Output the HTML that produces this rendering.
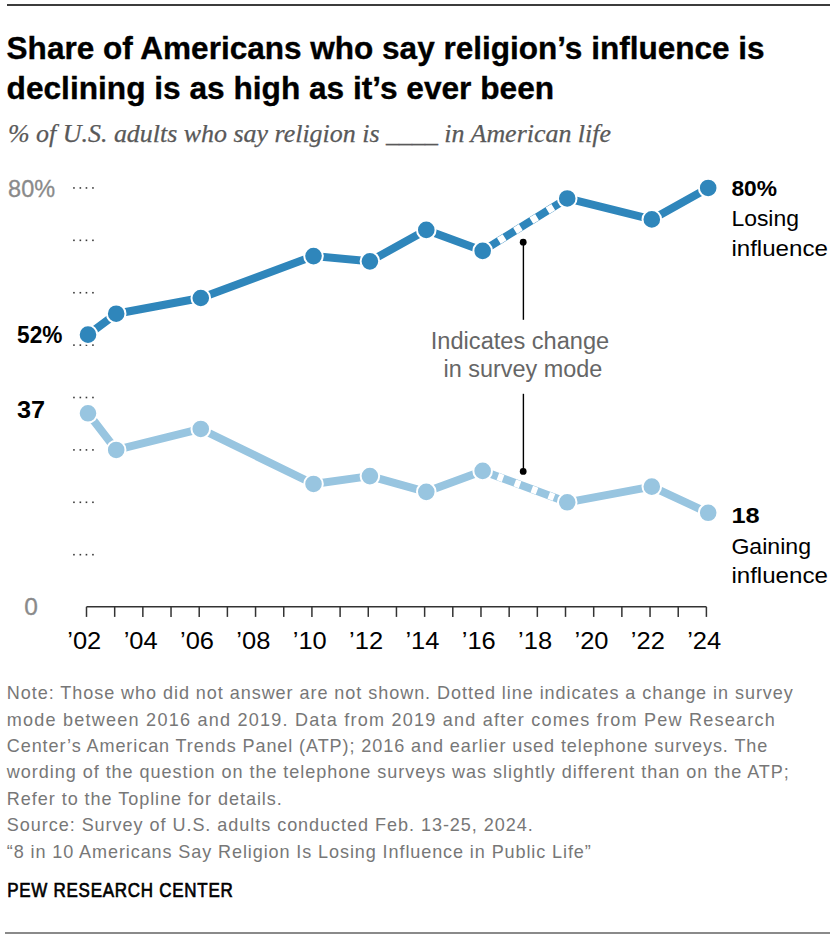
<!DOCTYPE html>
<html><head><meta charset="utf-8"><style>
html,body{margin:0;padding:0;background:#fff;width:840px;height:940px;overflow:hidden}
svg{display:block}
</style></head><body>
<svg width="840" height="940" viewBox="0 0 840 940">
<rect x="7" y="4" width="823" height="2" fill="#3c3c3c"/>
<rect x="5" y="932" width="825" height="2" fill="#8a8a8a"/>
<text x="6.6" y="58.7" style="font-family:Liberation Sans" font-weight="bold" font-size="31.5" fill="#000" stroke="#000" stroke-width="0.35" textLength="758" lengthAdjust="spacingAndGlyphs">Share of Americans who say religion’s influence is</text>
<text x="6.6" y="98.6" style="font-family:Liberation Sans" font-weight="bold" font-size="31.5" fill="#000" stroke="#000" stroke-width="0.35" textLength="547.5" lengthAdjust="spacingAndGlyphs">declining is as high as it’s ever been</text>
<text x="8" y="142.3" style="font-family:Liberation Serif" font-style="italic" font-size="24.5" fill="#595959" stroke="#595959" stroke-width="0.25" textLength="603" lengthAdjust="spacingAndGlyphs">% of U.S. adults who say religion is ____ in American life</text>
<text x="8.1" y="196.5" style="font-family:Liberation Sans" font-size="24.2" fill="#8a8a8a" stroke="#8a8a8a" stroke-width="0.3" textLength="47" lengthAdjust="spacingAndGlyphs">80%</text>
<text x="24.2" y="615.1" style="font-family:Liberation Sans" font-size="24.5" fill="#8a8a8a" stroke="#8a8a8a" stroke-width="0.3">0</text>
<rect x="73.15" y="187.15" width="1.6" height="1.6" fill="#3a3a3a"/>
<rect x="79.55" y="187.15" width="1.6" height="1.6" fill="#3a3a3a"/>
<rect x="85.65" y="187.15" width="1.6" height="1.6" fill="#3a3a3a"/>
<rect x="92.15" y="187.15" width="1.6" height="1.6" fill="#3a3a3a"/>
<rect x="73.15" y="239.54" width="1.6" height="1.6" fill="#3a3a3a"/>
<rect x="79.55" y="239.54" width="1.6" height="1.6" fill="#3a3a3a"/>
<rect x="85.65" y="239.54" width="1.6" height="1.6" fill="#3a3a3a"/>
<rect x="92.15" y="239.54" width="1.6" height="1.6" fill="#3a3a3a"/>
<rect x="73.15" y="291.93" width="1.6" height="1.6" fill="#3a3a3a"/>
<rect x="79.55" y="291.93" width="1.6" height="1.6" fill="#3a3a3a"/>
<rect x="85.65" y="291.93" width="1.6" height="1.6" fill="#3a3a3a"/>
<rect x="92.15" y="291.93" width="1.6" height="1.6" fill="#3a3a3a"/>
<rect x="73.15" y="344.32" width="1.6" height="1.6" fill="#3a3a3a"/>
<rect x="79.55" y="344.32" width="1.6" height="1.6" fill="#3a3a3a"/>
<rect x="85.65" y="344.32" width="1.6" height="1.6" fill="#3a3a3a"/>
<rect x="92.15" y="344.32" width="1.6" height="1.6" fill="#3a3a3a"/>
<rect x="73.15" y="396.71" width="1.6" height="1.6" fill="#3a3a3a"/>
<rect x="79.55" y="396.71" width="1.6" height="1.6" fill="#3a3a3a"/>
<rect x="85.65" y="396.71" width="1.6" height="1.6" fill="#3a3a3a"/>
<rect x="92.15" y="396.71" width="1.6" height="1.6" fill="#3a3a3a"/>
<rect x="73.15" y="449.10" width="1.6" height="1.6" fill="#3a3a3a"/>
<rect x="79.55" y="449.10" width="1.6" height="1.6" fill="#3a3a3a"/>
<rect x="85.65" y="449.10" width="1.6" height="1.6" fill="#3a3a3a"/>
<rect x="92.15" y="449.10" width="1.6" height="1.6" fill="#3a3a3a"/>
<rect x="73.15" y="501.49" width="1.6" height="1.6" fill="#3a3a3a"/>
<rect x="79.55" y="501.49" width="1.6" height="1.6" fill="#3a3a3a"/>
<rect x="85.65" y="501.49" width="1.6" height="1.6" fill="#3a3a3a"/>
<rect x="92.15" y="501.49" width="1.6" height="1.6" fill="#3a3a3a"/>
<rect x="73.15" y="553.88" width="1.6" height="1.6" fill="#3a3a3a"/>
<rect x="79.55" y="553.88" width="1.6" height="1.6" fill="#3a3a3a"/>
<rect x="85.65" y="553.88" width="1.6" height="1.6" fill="#3a3a3a"/>
<rect x="92.15" y="553.88" width="1.6" height="1.6" fill="#3a3a3a"/>
<path d="M86.5,606.8 H706.4" stroke="#333" stroke-width="1.5" fill="none"/>
<path d="M86.50,606.8 V616.9" stroke="#333" stroke-width="1.5" fill="none"/>
<path d="M114.68,606.8 V616.9" stroke="#333" stroke-width="1.5" fill="none"/>
<path d="M142.85,606.8 V616.9" stroke="#333" stroke-width="1.5" fill="none"/>
<path d="M171.03,606.8 V616.9" stroke="#333" stroke-width="1.5" fill="none"/>
<path d="M199.21,606.8 V616.9" stroke="#333" stroke-width="1.5" fill="none"/>
<path d="M227.39,606.8 V616.9" stroke="#333" stroke-width="1.5" fill="none"/>
<path d="M255.56,606.8 V616.9" stroke="#333" stroke-width="1.5" fill="none"/>
<path d="M283.74,606.8 V616.9" stroke="#333" stroke-width="1.5" fill="none"/>
<path d="M311.92,606.8 V616.9" stroke="#333" stroke-width="1.5" fill="none"/>
<path d="M340.10,606.8 V616.9" stroke="#333" stroke-width="1.5" fill="none"/>
<path d="M368.27,606.8 V616.9" stroke="#333" stroke-width="1.5" fill="none"/>
<path d="M396.45,606.8 V616.9" stroke="#333" stroke-width="1.5" fill="none"/>
<path d="M424.63,606.8 V616.9" stroke="#333" stroke-width="1.5" fill="none"/>
<path d="M452.80,606.8 V616.9" stroke="#333" stroke-width="1.5" fill="none"/>
<path d="M480.98,606.8 V616.9" stroke="#333" stroke-width="1.5" fill="none"/>
<path d="M509.16,606.8 V616.9" stroke="#333" stroke-width="1.5" fill="none"/>
<path d="M537.34,606.8 V616.9" stroke="#333" stroke-width="1.5" fill="none"/>
<path d="M565.51,606.8 V616.9" stroke="#333" stroke-width="1.5" fill="none"/>
<path d="M593.69,606.8 V616.9" stroke="#333" stroke-width="1.5" fill="none"/>
<path d="M621.87,606.8 V616.9" stroke="#333" stroke-width="1.5" fill="none"/>
<path d="M650.05,606.8 V616.9" stroke="#333" stroke-width="1.5" fill="none"/>
<path d="M678.22,606.8 V616.9" stroke="#333" stroke-width="1.5" fill="none"/>
<path d="M706.40,606.8 V616.9" stroke="#333" stroke-width="1.5" fill="none"/>
<text x="84.30" y="648.6" text-anchor="middle" style="font-family:Liberation Sans" font-size="24" fill="#000" textLength="34" lengthAdjust="spacingAndGlyphs">’02</text>
<text x="140.65" y="648.6" text-anchor="middle" style="font-family:Liberation Sans" font-size="24" fill="#000" textLength="34" lengthAdjust="spacingAndGlyphs">’04</text>
<text x="197.01" y="648.6" text-anchor="middle" style="font-family:Liberation Sans" font-size="24" fill="#000" textLength="34" lengthAdjust="spacingAndGlyphs">’06</text>
<text x="253.36" y="648.6" text-anchor="middle" style="font-family:Liberation Sans" font-size="24" fill="#000" textLength="34" lengthAdjust="spacingAndGlyphs">’08</text>
<text x="309.72" y="648.6" text-anchor="middle" style="font-family:Liberation Sans" font-size="24" fill="#000" textLength="34" lengthAdjust="spacingAndGlyphs">’10</text>
<text x="366.07" y="648.6" text-anchor="middle" style="font-family:Liberation Sans" font-size="24" fill="#000" textLength="34" lengthAdjust="spacingAndGlyphs">’12</text>
<text x="422.43" y="648.6" text-anchor="middle" style="font-family:Liberation Sans" font-size="24" fill="#000" textLength="34" lengthAdjust="spacingAndGlyphs">’14</text>
<text x="478.78" y="648.6" text-anchor="middle" style="font-family:Liberation Sans" font-size="24" fill="#000" textLength="34" lengthAdjust="spacingAndGlyphs">’16</text>
<text x="535.14" y="648.6" text-anchor="middle" style="font-family:Liberation Sans" font-size="24" fill="#000" textLength="34" lengthAdjust="spacingAndGlyphs">’18</text>
<text x="591.49" y="648.6" text-anchor="middle" style="font-family:Liberation Sans" font-size="24" fill="#000" textLength="34" lengthAdjust="spacingAndGlyphs">’20</text>
<text x="647.85" y="648.6" text-anchor="middle" style="font-family:Liberation Sans" font-size="24" fill="#000" textLength="34" lengthAdjust="spacingAndGlyphs">’22</text>
<text x="704.20" y="648.6" text-anchor="middle" style="font-family:Liberation Sans" font-size="24" fill="#000" textLength="34" lengthAdjust="spacingAndGlyphs">’24</text>
<path d="M88.00,334.67 L116.19,313.72 L200.76,298.00 L313.52,256.09 L369.90,261.33 L426.28,229.89 L482.66,250.85" stroke="#2f86bb" stroke-width="8" fill="none" stroke-linejoin="round"/>
<path d="M567.23,198.46 L651.80,219.41 L708.18,187.98" stroke="#2f86bb" stroke-width="8" fill="none" stroke-linejoin="round"/>
<path d="M482.66,250.85 L567.23,198.46" stroke="#2f86bb" stroke-width="8" fill="none"/>
<path d="M482.66,250.85 L567.23,198.46" stroke="#fff" stroke-width="7.3" fill="none" stroke-dasharray="6.80 12.30" stroke-dashoffset="-19.00"/>
<circle cx="88.00" cy="334.67" r="9.3" fill="#2f86bb" stroke="#fff" stroke-width="2"/>
<circle cx="116.19" cy="313.72" r="9.3" fill="#2f86bb" stroke="#fff" stroke-width="2"/>
<circle cx="200.76" cy="298.00" r="9.3" fill="#2f86bb" stroke="#fff" stroke-width="2"/>
<circle cx="313.52" cy="256.09" r="9.3" fill="#2f86bb" stroke="#fff" stroke-width="2"/>
<circle cx="369.90" cy="261.33" r="9.3" fill="#2f86bb" stroke="#fff" stroke-width="2"/>
<circle cx="426.28" cy="229.89" r="9.3" fill="#2f86bb" stroke="#fff" stroke-width="2"/>
<circle cx="482.66" cy="250.85" r="9.3" fill="#2f86bb" stroke="#fff" stroke-width="2"/>
<circle cx="567.23" cy="198.46" r="9.3" fill="#2f86bb" stroke="#fff" stroke-width="2"/>
<circle cx="651.80" cy="219.41" r="9.3" fill="#2f86bb" stroke="#fff" stroke-width="2"/>
<circle cx="708.18" cy="187.98" r="9.3" fill="#2f86bb" stroke="#fff" stroke-width="2"/>
<path d="M88.00,413.26 L116.19,449.93 L200.76,428.97 L313.52,483.98 L369.90,476.12 L426.28,491.84 L482.66,470.89" stroke="#98c5e0" stroke-width="8" fill="none" stroke-linejoin="round"/>
<path d="M567.23,502.32 L651.80,486.60 L708.18,512.80" stroke="#98c5e0" stroke-width="8" fill="none" stroke-linejoin="round"/>
<path d="M482.66,470.89 L567.23,502.32" stroke="#98c5e0" stroke-width="8" fill="none"/>
<path d="M482.66,470.89 L567.23,502.32" stroke="#fff" stroke-width="7.3" fill="none" stroke-dasharray="5.60 12.50" stroke-dashoffset="-16.20"/>
<circle cx="88.00" cy="413.26" r="9.3" fill="#98c5e0" stroke="#fff" stroke-width="2"/>
<circle cx="116.19" cy="449.93" r="9.3" fill="#98c5e0" stroke="#fff" stroke-width="2"/>
<circle cx="200.76" cy="428.97" r="9.3" fill="#98c5e0" stroke="#fff" stroke-width="2"/>
<circle cx="313.52" cy="483.98" r="9.3" fill="#98c5e0" stroke="#fff" stroke-width="2"/>
<circle cx="369.90" cy="476.12" r="9.3" fill="#98c5e0" stroke="#fff" stroke-width="2"/>
<circle cx="426.28" cy="491.84" r="9.3" fill="#98c5e0" stroke="#fff" stroke-width="2"/>
<circle cx="482.66" cy="470.89" r="9.3" fill="#98c5e0" stroke="#fff" stroke-width="2"/>
<circle cx="567.23" cy="502.32" r="9.3" fill="#98c5e0" stroke="#fff" stroke-width="2"/>
<circle cx="651.80" cy="486.60" r="9.3" fill="#98c5e0" stroke="#fff" stroke-width="2"/>
<circle cx="708.18" cy="512.80" r="9.3" fill="#98c5e0" stroke="#fff" stroke-width="2"/>
<circle cx="523.2" cy="242.2" r="3.4" fill="#000"/>
<path d="M523.4,242.2 V319.8" stroke="#000" stroke-width="1.4"/>
<path d="M523.4,393.8 V471.4" stroke="#000" stroke-width="1.4"/>
<circle cx="523.2" cy="471.4" r="3.4" fill="#000"/>
<text x="430.8" y="349.0" style="font-family:Liberation Sans" font-size="23.5" fill="#666" textLength="178.4" lengthAdjust="spacingAndGlyphs">Indicates change</text>
<text x="443.6" y="376.6" style="font-family:Liberation Sans" font-size="23.5" fill="#666" textLength="158.8" lengthAdjust="spacingAndGlyphs">in survey mode</text>
<text x="17.1" y="342.9" style="font-family:Liberation Sans" font-weight="bold" font-size="23.5" fill="#000" textLength="45.3" lengthAdjust="spacingAndGlyphs">52%</text>
<text x="16.9" y="417.9" style="font-family:Liberation Sans" font-weight="bold" font-size="23.5" fill="#000" textLength="28.1" lengthAdjust="spacingAndGlyphs">37</text>
<text x="731.4" y="196.1" style="font-family:Liberation Sans" font-weight="bold" font-size="21.5" fill="#000" textLength="45.6" lengthAdjust="spacingAndGlyphs">80%</text>
<text x="731.4" y="225.7" style="font-family:Liberation Sans" font-size="22.8" fill="#000" textLength="67.6" lengthAdjust="spacingAndGlyphs">Losing</text>
<text x="731.4" y="256" style="font-family:Liberation Sans" font-size="22.8" fill="#000" textLength="96.5" lengthAdjust="spacingAndGlyphs">influence</text>
<text x="731.4" y="523.0" style="font-family:Liberation Sans" font-weight="bold" font-size="21.5" fill="#000" textLength="28.2" lengthAdjust="spacingAndGlyphs">18</text>
<text x="731.4" y="553.6" style="font-family:Liberation Sans" font-size="22.8" fill="#000" textLength="79.6" lengthAdjust="spacingAndGlyphs">Gaining</text>
<text x="731.4" y="583.3" style="font-family:Liberation Sans" font-size="22.8" fill="#000" textLength="96.5" lengthAdjust="spacingAndGlyphs">influence</text>
<g transform="translate(6.8,699.20) scale(0.96,1)"><text x="0" y="0" style="font-family:Liberation Sans" font-size="18.8" fill="#777" textLength="818.75" lengthAdjust="spacing">Note: Those who did not answer are not shown. Dotted line indicates a change in survey</text></g>
<g transform="translate(6.8,725.63) scale(0.96,1)"><text x="0" y="0" style="font-family:Liberation Sans" font-size="18.8" fill="#777" textLength="800.00" lengthAdjust="spacing">mode between 2016 and 2019. Data from 2019 and after comes from Pew Research</text></g>
<g transform="translate(6.8,752.06) scale(0.96,1)"><text x="0" y="0" style="font-family:Liberation Sans" font-size="18.8" fill="#777" textLength="792.19" lengthAdjust="spacing">Center’s American Trends Panel (ATP); 2016 and earlier used telephone surveys. The</text></g>
<g transform="translate(6.8,778.49) scale(0.96,1)"><text x="0" y="0" style="font-family:Liberation Sans" font-size="18.8" fill="#777" textLength="814.58" lengthAdjust="spacing">wording of the question on the telephone surveys was slightly different than on the ATP;</text></g>
<g transform="translate(6.8,804.92) scale(0.96,1)"><text x="0" y="0" style="font-family:Liberation Sans" font-size="18.8" fill="#777" textLength="286.46" lengthAdjust="spacing">Refer to the Topline for details.</text></g>
<g transform="translate(6.8,831.35) scale(0.96,1)"><text x="0" y="0" style="font-family:Liberation Sans" font-size="18.8" fill="#777" textLength="547.92" lengthAdjust="spacing">Source: Survey of U.S. adults conducted Feb. 13-25, 2024.</text></g>
<g transform="translate(6.8,857.78) scale(0.96,1)"><text x="0" y="0" style="font-family:Liberation Sans" font-size="18.8" fill="#777" textLength="608.33" lengthAdjust="spacing">“8 in 10 Americans Say Religion Is Losing Influence in Public Life”</text></g>
<g transform="translate(7.2,896.9) scale(0.88,1)"><text x="0" y="0" style="font-family:Liberation Sans" font-size="19.3" fill="#000" stroke="#000" stroke-width="0.65" textLength="256.3" lengthAdjust="spacing">PEW RESEARCH CENTER</text></g>
</svg>
</body></html>
